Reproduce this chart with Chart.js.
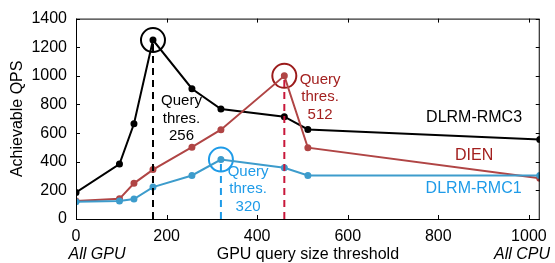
<!DOCTYPE html>
<html>
<head>
<meta charset="utf-8">
<script src="https://cdn.jsdelivr.net/npm/chart.js@4"></script>
<style>
  html, body { margin: 0; padding: 0; background: #fff; }
  #wrap { width: 555px; height: 263px; }
</style>
</head>
<body>
<div id="wrap"><canvas id="qpsChart"></canvas></div>
<script>
// =======================
// Data
// =======================
const thresholds = [0, 96, 128, 170, 256, 320, 460, 512, 1024];
const rmc3Qps = [185, 384, 665, 1250, 910, 768, 715, 626, 555];
const dienQps = [125, 141, 249, 345, 502, 624, 1000, 498, 285];
const rmc1Qps = [121, 125, 139, 223, 304, 415, 358, 304, 304];

const xTicks = [0, 200, 400, 600, 800, 1000];
const yTicks = [0, 200, 400, 600, 800, 1000, 1200, 1400];

// chosen thresholds per model: [x, qps]
const rmc3Best = [170, 1250];
const dienBest = [460, 1000];
const rmc1Best = [320, 415];

const FONT = "'Liberation Sans', Arial, sans-serif";
const BLACK = '#000000';
const RED_LINE = '#b04545';
const RED_TEXT = '#a3201f';
const RED_DASH = '#c8173a';
const RED_CIRCLE = '#9b1b1b';
const BLUE_LINE = '#3d9ccc';
const BLUE_TEXT = '#1e9be8';

const toPoints = (xs, ys) => xs.map((x, i) => ({ x, y: ys[i] }));

function series(label, values, color) {
    return {
        label,
        data: toPoints(thresholds, values),
        borderColor: color,
        backgroundColor: color,
        borderWidth: 2,
        pointRadius: 2.5,
        pointHoverRadius: 2.5,
        showLine: true,
        tension: 0
    };
}

function dropLine(best, color) {
    return {
        data: [{ x: best[0], y: 0 }, { x: best[0], y: best[1] }],
        borderColor: color,
        borderWidth: 2,
        borderDash: [7, 5],
        pointRadius: 0,
        showLine: true
    };
}

function ring(best, color) {
    return {
        data: [{ x: best[0], y: best[1] }],
        borderColor: color,
        backgroundColor: 'rgba(0,0,0,0)',
        borderWidth: 2,
        pointRadius: 12,
        pointHoverRadius: 12,
        showLine: false
    };
}

// =======================
// Frame, inward ticks and text labels
// =======================
const framePlugin = {
    id: 'frame',
    afterDraw(chart) {
        const { ctx, chartArea: a, scales } = chart;
        const xs = scales.x, ys = scales.y;
        ctx.save();
        ctx.strokeStyle = '#000';
        ctx.lineWidth = 1;
        ctx.strokeRect(a.left + 0.5, a.top + 0.5, a.right - a.left - 1, a.bottom - a.top);
        ctx.beginPath();
        xTicks.forEach(v => {
            const px = Math.round(xs.getPixelForValue(v)) + 0.5;
            ctx.moveTo(px, a.bottom); ctx.lineTo(px, a.bottom - 4);
            ctx.moveTo(px, a.top); ctx.lineTo(px, a.top + 4);
        });
        yTicks.forEach(v => {
            const py = Math.round(ys.getPixelForValue(v)) + 0.5;
            ctx.moveTo(a.left, py); ctx.lineTo(a.left + 4, py);
            ctx.moveTo(a.right, py); ctx.lineTo(a.right - 4, py);
        });
        ctx.stroke();

        // axis titles
        ctx.fillStyle = '#000';
        ctx.textAlign = 'center';
        ctx.textBaseline = 'middle';
        ctx.font = `16px ${FONT}`;
        ctx.fillText('GPU query size threshold', (a.left + a.right) / 2, 255);
        ctx.save();
        ctx.translate(18, (a.top + a.bottom) / 2);
        ctx.rotate(-Math.PI / 2);
        ctx.fillText('Achievable QPS', 0, 0);
        ctx.restore();
        ctx.font = `italic 16px ${FONT}`;
        ctx.fillText('All GPU', 97, 255);
        ctx.fillText('All CPU', 522, 255);

        // in-plot labels (positions in data units)
        const put = (lines, x, y, color, size) => {
            ctx.fillStyle = color;
            ctx.font = `${size}px ${FONT}`;
            const px = xs.getPixelForValue(x);
            const py = ys.getPixelForValue(y);
            const lh = 17.5;
            lines.forEach((t, i) => {
                ctx.fillText(t, px, py + (i - (lines.length - 1) / 2) * lh);
            });
        };
        put(['Query', 'thres.', '256'], 233, 700, BLACK, 15);
        put(['Query', 'thres.', '320'], 380, 210, BLUE_TEXT, 15);
        put(['Query', 'thres.', '512'], 539, 851, RED_TEXT, 15);
        put(['DLRM-RMC3'], 879, 708, BLACK, 16);
        put(['DIEN'], 879, 445, RED_TEXT, 16);
        put(['DLRM-RMC1'], 878, 210, BLUE_TEXT, 16);
        ctx.restore();
    }
};

const ctx = document.getElementById('qpsChart').getContext('2d');
new Chart(ctx, {
    type: 'scatter',
    data: {
        datasets: [
            dropLine(rmc3Best, BLACK),
            dropLine(rmc1Best, BLUE_TEXT),
            dropLine(dienBest, RED_DASH),
            series('DLRM-RMC1', rmc1Qps, BLUE_LINE),
            series('DIEN', dienQps, RED_LINE),
            series('DLRM-RMC3', rmc3Qps, BLACK),
            ring(rmc3Best, BLACK),
            ring(dienBest, RED_CIRCLE),
            ring(rmc1Best, BLUE_TEXT)
        ]
    },
    options: {
        responsive: true,
        maintainAspectRatio: false,
        animation: false,
        layout: { padding: { top: 15, right: 11, left: 0, bottom: 0 } },
        plugins: {
            legend: { display: false },
            tooltip: { enabled: false }
        },
        scales: {
            x: {
                type: 'linear',
                min: 0,
                max: 1024,
                grid: { display: false, drawTicks: false },
                border: { display: false },
                afterFit: s => { s.height = 44; },
                afterBuildTicks: s => { s.ticks = xTicks.map(v => ({ value: v })); },
                ticks: {
                    padding: 8,
                    color: '#000',
                    font: { family: FONT, size: 16 },
                    maxRotation: 0,
                    autoSkip: false,
                    callback: v => String(v)
                }
            },
            y: {
                min: 0,
                max: 1400,
                grid: { display: false, drawTicks: false },
                border: { display: false },
                afterFit: s => { s.width = 76; },
                afterBuildTicks: s => { s.ticks = yTicks.map(v => ({ value: v })); },
                ticks: {
                    padding: 9,
                    color: '#000',
                    font: { family: FONT, size: 16 },
                    autoSkip: false,
                    callback: v => String(v)
                }
            }
        }
    },
    plugins: [framePlugin]
});
</script>
</body>
</html>
